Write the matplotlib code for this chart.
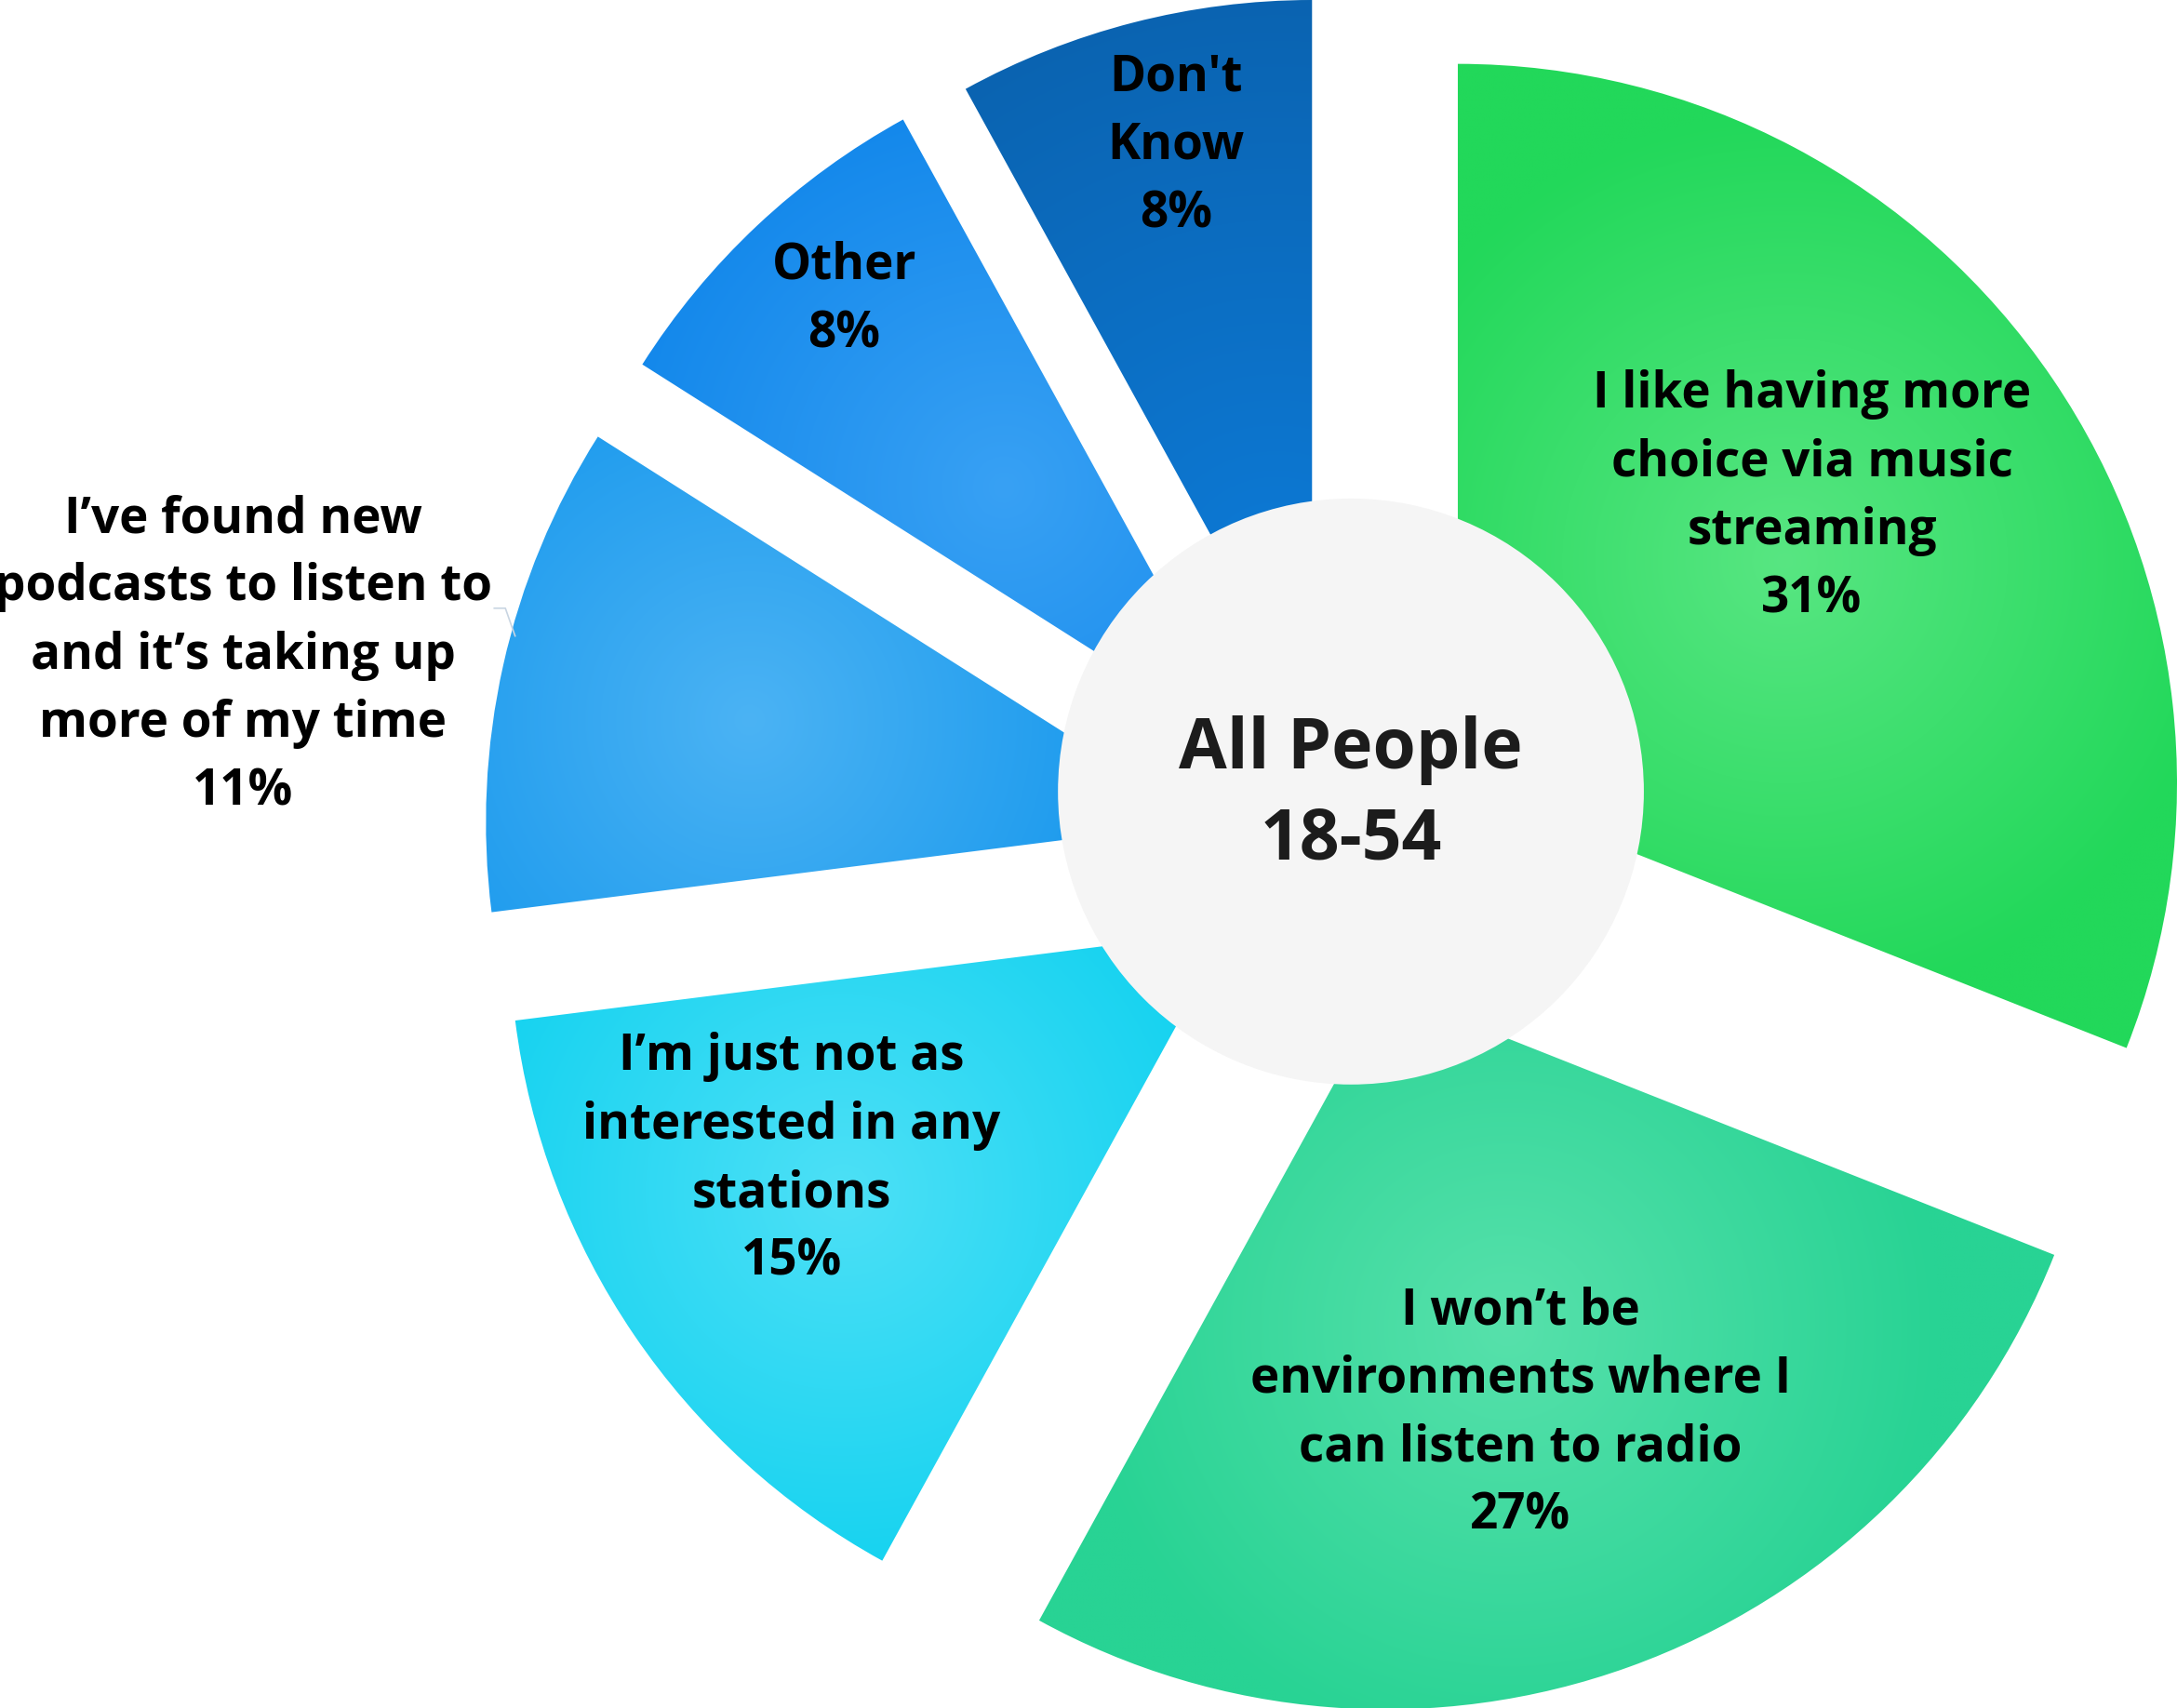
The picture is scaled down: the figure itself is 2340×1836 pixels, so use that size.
import numpy as np
import matplotlib
matplotlib.use("Agg")
import matplotlib.pyplot as plt
from matplotlib.patches import Wedge, Circle
from matplotlib.colors import to_rgb

plt.rcParams['font.family'] = ['Open Sans', 'DejaVu Sans']

# Survey answers, clockwise from 12 o'clock
labels = [
    "I like having more\nchoice via music\nstreaming",
    "I won\u2019t be\nenvironments where I\ncan listen to radio",
    "I\u2019m just not as\ninterested in any\nstations",
    "I\u2019ve found new\npodcasts to listen to\nand it\u2019s taking up\nmore of my time",
    "Other",
    "Don't\nKnow",
]
values = [31, 27, 15, 11, 8, 8]
centre_title = "All People\n18-54"

# styling: edge colour and highlight colour of each slice's radial gradient
base_colors = ['#22D85A', '#28D394', '#14D2F0', '#1496EC', '#0F85EA', '#0A5EA8']
light_colors = ['#58E682', '#57E1AB', '#4DE0F6', '#4BB3F4', '#38A1F4', '#0D7AD6']
# per-slice explode shift (px, y down) and gradient placement
explode = [(77, -6), (25, 143), (-88, 100), (-105, 22), (-73, -30), (-28, -52)]
grad_pos = [0.55, 0.5, 0.65, 0.65, 0.5, 0.2]
grad_size = [0.62, 0.6, 0.55, 0.6, 0.6, 1.0]
# label anchor (px, y down)
label_xy = [(1305, 358), (1095, 1018), (570, 835), (175, 472), (608, 216), (847, 105)]

W, H = 1568, 1230
CX, CY = 973, 570
R = 518
HOLE = 211

fig = plt.figure(figsize=(23.4, 18.36), dpi=100)
ax = fig.add_axes([0, 0, 1, 1])
ax.set_axis_off()

total = float(sum(values))
start = 0.0
for i, v in enumerate(values):
    span = 360.0 * v / total
    a0, a1 = start, start + span
    start = a1
    ox, oy = explode[i]
    px, py = CX + ox, CY + oy

    # visual clockwise angle -> data angle with the inverted y axis
    wedge = Wedge((px, py), R, a0 - 90, a1 - 90, facecolor='none',
                  edgecolor='none')
    ax.add_patch(wedge)

    mid = np.radians((a0 + a1) / 2)
    gx = px + grad_pos[i] * R * np.sin(mid)
    gy = py - grad_pos[i] * R * np.cos(mid)

    xs = np.linspace(px - R, px + R, 500)
    ys = np.linspace(py - R, py + R, 500)
    XX, YY = np.meshgrid(xs, ys)
    t = np.clip(np.hypot(XX - gx, YY - gy) / (grad_size[i] * R), 0, 1)
    c0 = np.array(to_rgb(light_colors[i]))
    c1 = np.array(to_rgb(base_colors[i]))
    img = c0 * (1 - t[..., None]) + c1 * t[..., None]
    im = ax.imshow(img, extent=(xs[0], xs[-1], ys[-1], ys[0]), origin='upper',
                   interpolation='bilinear', zorder=1)
    im.set_clip_path(wedge)

    lx, ly = label_xy[i]
    ax.text(lx, ly, f"{labels[i]}\n{v}%", ha='center', va='center',
            fontsize=38.2, fontweight='bold', color='black',
            linespacing=1.47, zorder=4)

# thin leader for the label that sits outside its slice
ax.plot([356, 364, 371], [438, 438, 458], color='#C9D5E2', lw=1.2, zorder=3)

ax.add_patch(Circle((CX, CY), HOLE, facecolor='#F5F5F5', edgecolor='none',
                    zorder=2))
ax.text(CX, CY + 3, centre_title, ha='center', va='center', fontsize=54,
        fontweight='bold', color='#1C1C1C', linespacing=1.39, zorder=4)

ax.set_xlim(0, W)
ax.set_ylim(H, 0)
ax.set_aspect('auto')

fig.savefig('out.png', dpi=100, facecolor='white')
